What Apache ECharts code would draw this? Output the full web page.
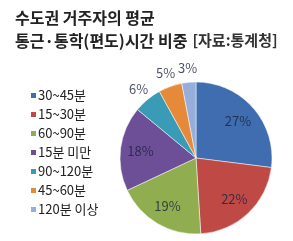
<!DOCTYPE html>
<html>
<head>
<meta charset="utf-8">
<script src="https://cdn.jsdelivr.net/npm/echarts@6/dist/echarts.min.js"></script>
<style>
  html, body { margin: 0; padding: 0; background: #fff; }
  #chart { width: 293px; height: 241px; }
</style>
</head>
<body>
<div id="chart"></div>
<script>
  const categories = ['30~45분', '15~30분', '60~90분', '15분 미만', '90~120분', '45~60분', '120분 이상'];
  const shares = [27, 22, 19, 18, 6, 5, 3];
  const colors = ['#3f6db0', '#bf4a45', '#90ae4f', '#6d4f98', '#3a9bb6', '#e68a3a', '#95aedb'];
  const outsideLabels = ['90~120분', '45~60분', '120분 이상'];

  const font = '"Noto Sans CJK KR", "Noto Sans", sans-serif';
  const center = [196, 158];
  const pieRadius = 76;
  const chart = echarts.init(document.getElementById('chart'));

  // percentage labels sit on a hidden polar grid: angle = middle of the slice, radius in px
  let acc = 0;
  const labelPoints = shares.map((v, i) => {
    const mid = acc + v / 2;
    acc += v;
    const r = outsideLabels.includes(categories[i]) ? 90 : 56;
    return { value: [r, mid], label: { formatter: v + '%' } };
  });

  chart.setOption({
    animation: false,
    color: colors,
    title: {
      left: 10,
      top: 1,
      text: '{b|수도권 거주자의 평균}\n{b|통근·통학(편도)시간 비중} {n|[자료:통계청]}',
      textStyle: {
        rich: {
          b: { fontFamily: font, fontSize: 16, fontWeight: 'bold', color: '#222', lineHeight: 23 },
          n: { fontFamily: font, fontSize: 15, color: '#333', lineHeight: 23 }
        }
      }
    },
    legend: {
      orient: 'vertical',
      left: 24,
      top: 84,
      itemWidth: 7,
      itemHeight: 7,
      itemGap: 6,
      icon: 'rect',
      selectedMode: false,
      textStyle: { fontFamily: font, fontSize: 13, color: '#222', padding: [0, 0, 0, -4] },
      data: categories
    },
    polar: { center: center, radius: [0, 120] },
    angleAxis: { type: 'value', min: 0, max: 100, startAngle: 90, clockwise: true, show: false },
    radiusAxis: { type: 'value', min: 0, max: 120, show: false },
    series: [
      {
        type: 'pie',
        center: center,
        radius: pieRadius,
        startAngle: 90,
        clockwise: true,
        itemStyle: { borderColor: '#fff', borderWidth: 0.5 },
        label: { show: false },
        data: categories.map((name, i) => ({ name: name, value: shares[i] }))
      },
      {
        type: 'scatter',
        coordinateSystem: 'polar',
        symbolSize: 0,
        silent: true,
        z: 5,
        label: {
          show: true,
          position: 'inside',
          fontFamily: font,
          fontSize: 13,
          color: '#1c2240'
        },
        data: labelPoints
      }
    ]
  });
</script>
</body>
</html>
